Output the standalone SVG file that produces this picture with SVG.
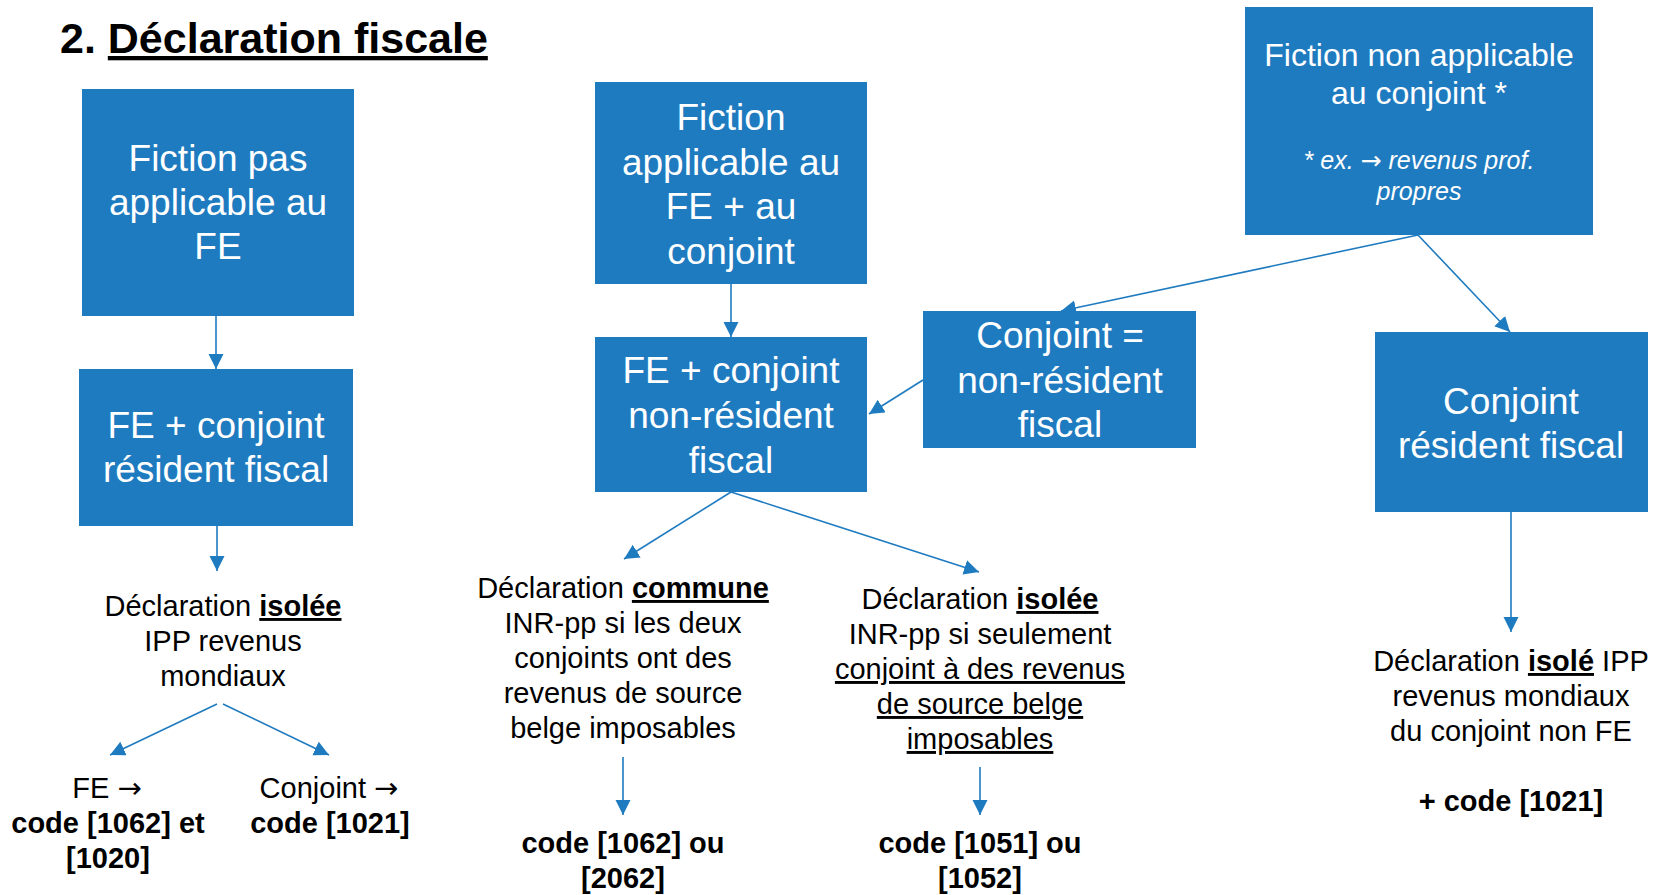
<svg xmlns="http://www.w3.org/2000/svg" width="1662" height="895" viewBox="0 0 1662 895">
<style>
.box{fill:#1F7BC0}
.bt{font-family:"Liberation Sans",Arial,sans-serif;font-size:37px;fill:#fff;text-anchor:middle}
.bs{font-size:32px}
.it{font-size:25px;font-style:italic}
.t{font-family:"Liberation Sans",Arial,sans-serif;font-size:29px;fill:#000;text-anchor:middle}
.b{font-weight:bold}
.u{text-decoration:underline}
.ar{font-family:"DejaVu Sans",sans-serif;font-style:normal}
.conn line{stroke:#1F7BC0;stroke-width:1.6;fill:none;marker-end:url(#ah)}
</style>
<defs>
<marker id="ah" markerUnits="userSpaceOnUse" markerWidth="16" markerHeight="16" refX="15" refY="7.5" orient="auto"><path d="M0,0 L15,7.5 L0,15 z" fill="#1F7BC0"/></marker>
</defs>
<rect width="1662" height="895" fill="#fff"/>
<text x="60" y="53" style="font-family:'Liberation Sans',Arial,sans-serif;font-size:43px;font-weight:bold" fill="#000">2. <tspan class="u">Déclaration fiscale</tspan></text>

<g id="box1"><rect class="box" x="82" y="89" width="272" height="227"/>
<text class="bt" x="218"><tspan x="218" y="171">Fiction pas</tspan><tspan x="218" y="215">applicable au</tspan><tspan x="218" y="259">FE</tspan></text></g>
<g id="box2"><rect class="box" x="79" y="369" width="274" height="157"/>
<text class="bt"><tspan x="216" y="438">FE + conjoint</tspan><tspan x="216" y="482">résident fiscal</tspan></text></g>
<g id="box3"><rect class="box" x="595" y="82" width="272" height="202"/>
<text class="bt"><tspan x="731" y="130">Fiction</tspan><tspan x="731" y="175">applicable au</tspan><tspan x="731" y="219">FE + au</tspan><tspan x="731" y="264">conjoint</tspan></text></g>
<g id="box4"><rect class="box" x="595" y="337" width="272" height="155"/>
<text class="bt"><tspan x="731" y="383">FE + conjoint</tspan><tspan x="731" y="428">non-résident</tspan><tspan x="731" y="473">fiscal</tspan></text></g>
<g id="box5"><rect class="box" x="923" y="311" width="273" height="137"/>
<text class="bt"><tspan x="1060" y="348">Conjoint =</tspan><tspan x="1060" y="393">non-résident</tspan><tspan x="1060" y="437">fiscal</tspan></text></g>
<g id="box6"><rect class="box" x="1245" y="7" width="348" height="228"/>
<text class="bt bs"><tspan x="1419" y="66">Fiction non applicable</tspan><tspan x="1419" y="104">au conjoint *</tspan></text>
<text class="bt it"><tspan x="1419" y="169">* ex.  <tspan class="ar">→</tspan> revenus prof.</tspan><tspan x="1419" y="200">propres</tspan></text></g>
<g id="box7"><rect class="box" x="1375" y="332" width="273" height="180"/>
<text class="bt"><tspan x="1511" y="414">Conjoint</tspan><tspan x="1511" y="458">résident fiscal</tspan></text></g>

<g id="txt-left"><text class="t"><tspan x="223" y="616">Déclaration <tspan class="b u">isolée</tspan></tspan><tspan x="223" y="651">IPP revenus</tspan><tspan x="223" y="686">mondiaux</tspan></text></g>
<g id="txt-fe"><text class="t"><tspan x="107" y="798">FE <tspan class="ar">→</tspan></tspan><tspan class="b" x="108" y="833">code [1062] et</tspan><tspan class="b" x="108" y="868">[1020]</tspan></text></g>
<g id="txt-conj"><text class="t"><tspan x="329" y="798">Conjoint <tspan class="ar">→</tspan></tspan><tspan class="b" x="330" y="833">code [1021]</tspan></text></g>
<g id="txt-commune"><text class="t"><tspan x="623" y="598">Déclaration <tspan class="b u">commune</tspan></tspan><tspan x="623" y="633">INR-pp si les deux</tspan><tspan x="623" y="668">conjoints ont des</tspan><tspan x="623" y="703">revenus de source</tspan><tspan x="623" y="738">belge imposables</tspan></text></g>
<g id="txt-isolee"><text class="t"><tspan x="980" y="609">Déclaration <tspan class="b u">isolée</tspan></tspan><tspan x="980" y="644">INR-pp si seulement</tspan><tspan class="u" x="980" y="679">conjoint à des revenus</tspan><tspan class="u" x="980" y="714">de source belge</tspan><tspan class="u" x="980" y="749">imposables</tspan></text></g>
<g id="txt-code1"><text class="t b"><tspan x="623" y="853">code [1062] ou</tspan><tspan x="623" y="888">[2062]</tspan></text></g>
<g id="txt-code2"><text class="t b"><tspan x="980" y="853">code [1051] ou</tspan><tspan x="980" y="888">[1052]</tspan></text></g>
<g id="txt-right"><text class="t"><tspan x="1511" y="671">Déclaration <tspan class="b u">isolé</tspan> IPP</tspan><tspan x="1511" y="706">revenus mondiaux</tspan><tspan x="1511" y="741">du conjoint non FE</tspan><tspan class="b" x="1511" y="811">+ code [1021]</tspan></text></g>

<g id="connectors" class="conn">
<line x1="216" y1="316" x2="216" y2="369"/>
<line x1="217" y1="526" x2="217" y2="571"/>
<line x1="217" y1="704" x2="110" y2="755"/>
<line x1="223" y1="704" x2="329" y2="755"/>
<line x1="731" y1="284" x2="731" y2="337"/>
<line x1="923" y1="380" x2="869" y2="414"/>
<line x1="1418" y1="235" x2="1061" y2="311"/>
<line x1="1418" y1="235" x2="1510" y2="332"/>
<line x1="1511" y1="512" x2="1511" y2="632"/>
<line x1="731" y1="492" x2="624" y2="559"/>
<line x1="731" y1="492" x2="979" y2="572"/>
<line x1="623" y1="757" x2="623" y2="815"/>
<line x1="980" y1="767" x2="980" y2="815"/>
</g>
</svg>
